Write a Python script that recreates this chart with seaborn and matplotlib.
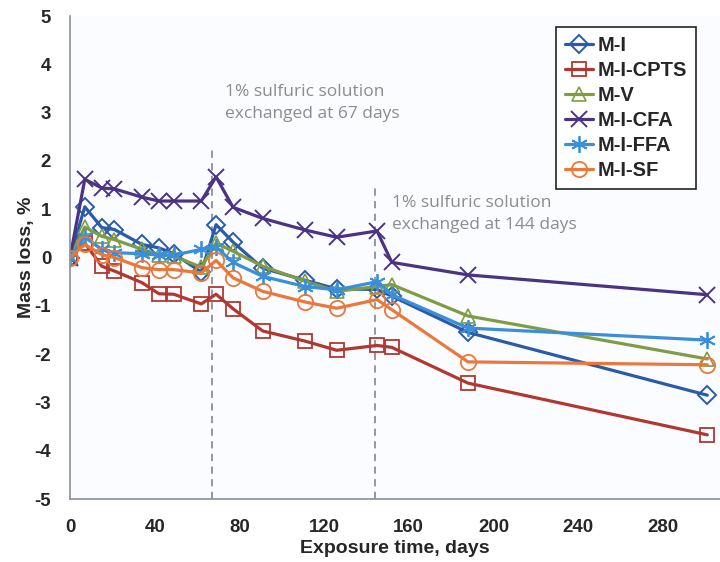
import matplotlib
matplotlib.use("Agg")
import matplotlib.pyplot as plt
import seaborn as sns
import pandas as pd

days = [0, 7, 15, 21, 34, 42, 49, 62, 69, 77, 91, 111, 126, 145, 152, 188, 301]

m_i      = [0, 1.05, 0.62, 0.58, 0.27, 0.20, 0.08, -0.30, 0.68, 0.32, -0.22, -0.47, -0.65, -0.66, -0.80, -1.55, -2.85]
m_i_cpts = [0, 0.30, -0.18, -0.28, -0.52, -0.75, -0.76, -0.96, -0.76, -1.06, -1.52, -1.73, -1.92, -1.82, -1.86, -2.60, -3.67]
m_v      = [0, 0.63, 0.44, 0.37, 0.17, 0.06, 0.03, -0.20, 0.30, 0.13, -0.18, -0.49, -0.70, -0.60, -0.56, -1.21, -2.10]
m_i_cfa  = [0, 1.62, 1.44, 1.42, 1.25, 1.17, 1.17, 1.17, 1.67, 1.04, 0.81, 0.57, 0.42, 0.55, -0.10, -0.36, -0.77]
m_i_ffa  = [0, 0.42, 0.17, 0.10, 0.08, 0.05, 0.05, 0.17, 0.22, -0.10, -0.39, -0.60, -0.67, -0.50, -0.77, -1.46, -1.71]
m_i_sf   = [0, 0.27, 0.06, 0.00, -0.21, -0.25, -0.25, -0.32, -0.06, -0.42, -0.70, -0.92, -1.05, -0.87, -1.08, -2.16, -2.22]

series_names = ["M-I", "M-I-CPTS", "M-V", "M-I-CFA", "M-I-FFA", "M-I-SF"]
series_vals = [m_i, m_i_cpts, m_v, m_i_cfa, m_i_ffa, m_i_sf]
colors = ["#2a5ba8", "#b0382f", "#7f9c45", "#4b3383", "#3a8fd8", "#e9783a"]
markers = ["D", "s", "^", "x", (6, 2, 0), "o"]

x_ticks = [0, 40, 80, 120, 160, 200, 240, 280]
y_ticks = [5, 4, 3, 2, 1, 0, -1, -2, -3, -4, -5]

sns.set_style("white")
plt.rcParams["font.family"] = ["Liberation Sans", "DejaVu Sans"]

fig = plt.figure(figsize=(7.2, 5.62), dpi=100)
ax = fig.add_axes([0.0972, 0.112, 0.9028, 0.8595])
ax.set_facecolor("#fbfcff")

marker_kw = [
    dict(markersize=9.5, markeredgewidth=1.4, markerfacecolor="none"),
    dict(markersize=10.5, markeredgewidth=1.3, markerfacecolor="none"),
    dict(markersize=10, markeredgewidth=1.2, markerfacecolor="none"),
    dict(markersize=12, markeredgewidth=1.4),
    dict(markersize=12, markeredgewidth=1.3),
    dict(markersize=11, markeredgewidth=1.3, markerfacecolor="none"),
]

for name, vals, col, mk, kw in zip(series_names, series_vals, colors, markers, marker_kw):
    df = pd.DataFrame({"day": days, "loss": vals})
    sns.lineplot(data=df, x="day", y="loss", ax=ax, color=col, marker=mk,
                 linewidth=2.3, sort=False, estimator=None, label=name,
                 markeredgecolor=col, **kw)

# solution exchange markers
ax.plot([67, 67], [-5, 2.3], ls=(0, (4, 3)), color="#8a8f9c", lw=1.3, zorder=1)
ax.plot([144, 144], [-5, 1.5], ls=(0, (4, 3)), color="#8a8f9c", lw=1.3, zorder=1)
note_font = ["Open Sans", "DejaVu Sans"]
ax.text(73, 3.2, "1% sulfuric solution\nexchanged at 67 days", fontsize=12.5,
        color="#8c8c8c", family=note_font, va="center", ha="left",
        linespacing=1.55)
ax.text(152, 0.9, "1% sulfuric solution\nexchanged at 144 days", fontsize=12.5,
        color="#8c8c8c", family=note_font, va="center", ha="left",
        linespacing=1.55)

ax.set_xlim(0, 307)
ax.set_ylim(-5, 5)
ax.set_xticks(x_ticks)
ax.set_yticks(y_ticks)
ax.set_xticklabels([str(t) for t in x_ticks], fontsize=13.4, fontweight="bold")
ax.set_yticklabels([str(t) for t in y_ticks], fontsize=13.4, fontweight="bold")
ax.tick_params(axis="both", direction="out", length=5, width=1, color="#8a8f9c")
ax.tick_params(axis="x", pad=9)
ax.tick_params(axis="y", pad=8.5)

for side in ["top", "right"]:
    ax.spines[side].set_visible(False)
for side in ["left", "bottom"]:
    ax.spines[side].set_color("#8a8f9c")
    ax.spines[side].set_linewidth(1.2)

ax.set_xlabel("Exposure time, days", fontsize=14, fontweight="bold", labelpad=3)
ax.set_ylabel("Mass loss, %", fontsize=14, fontweight="bold", labelpad=0)

leg = ax.legend(loc="upper right", bbox_to_anchor=(0.963, 0.977), frameon=True,
                fancybox=False, edgecolor="#222222", framealpha=1,
                prop=dict(weight="bold", size=14.5), handlelength=1.4,
                handletextpad=0.2, labelspacing=0.3, borderpad=0.45,
                borderaxespad=0)
leg.get_frame().set_linewidth(1.2)

fig.savefig("out.png", dpi=100, facecolor="white")
